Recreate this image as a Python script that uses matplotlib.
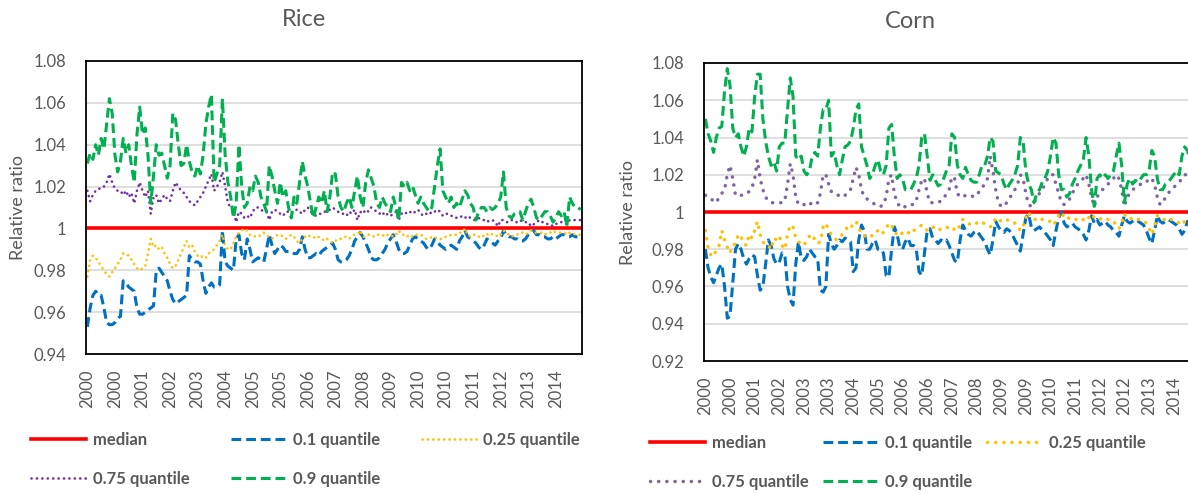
import matplotlib
matplotlib.use("Agg")
import matplotlib.pyplot as plt
from matplotlib.lines import Line2D
from matplotlib.ticker import FuncFormatter
import numpy as np

plt.rcParams['font.family'] = ['Lato', 'DejaVu Sans']

# monthly values, Jan 2000 .. Dec 2014 (180 months)
rice_q10 = [
    0.953, 0.962, 0.968, 0.970, 0.968, 0.968, 0.962, 0.955, 0.954, 0.954,
    0.955, 0.957, 0.958, 0.975, 0.974, 0.972, 0.971, 0.970, 0.962, 0.959,
    0.959, 0.960, 0.961, 0.962, 0.963, 0.980, 0.981, 0.979, 0.977, 0.975,
    0.970, 0.966, 0.964, 0.965, 0.966, 0.967, 0.968, 0.987, 0.985, 0.984,
    0.984, 0.983, 0.975, 0.969, 0.972, 0.974, 0.972, 0.972, 0.973, 0.999,
    0.984, 0.982, 0.981, 0.980, 0.995, 0.997, 0.988, 0.985, 0.995, 0.990,
    0.984, 0.985, 0.986, 0.985, 0.984, 0.990, 0.997, 0.992, 0.988, 0.990,
    0.992, 0.991, 0.989, 0.989, 0.989, 0.988, 0.988, 0.990, 0.996, 0.990,
    0.986, 0.986, 0.987, 0.988, 0.987, 0.989, 0.990, 0.991, 0.992, 0.993,
    0.990, 0.985, 0.984, 0.984, 0.985, 0.987, 0.990, 0.994, 0.996, 0.998,
    0.996, 0.993, 0.990, 0.986, 0.985, 0.985, 0.986, 0.988, 0.990, 0.993,
    0.995, 0.997, 0.994, 0.990, 0.988, 0.988, 0.989, 0.992, 0.995, 0.996,
    0.995, 0.994, 0.993, 0.991, 0.990, 0.992, 0.995, 0.994, 0.992, 0.991,
    0.990, 0.991, 0.992, 0.991, 0.990, 0.994, 0.996, 0.999, 0.996, 0.995,
    0.994, 0.993, 0.991, 0.990, 0.992, 0.995, 0.994, 0.993, 0.992, 0.994,
    0.995, 0.999, 0.997, 0.996, 0.996, 0.995, 0.995, 0.994, 0.994, 0.995,
    0.997, 0.998, 0.999, 0.997, 0.997, 0.996, 0.996, 0.995, 0.995, 0.996,
    0.995, 0.996, 0.997, 0.997, 0.996, 0.996, 0.997, 0.996, 0.996, 0.996,
]
rice_q25 = [
    0.977, 0.985, 0.987, 0.986, 0.984, 0.982, 0.980, 0.978, 0.977, 0.979,
    0.981, 0.983, 0.985, 0.988, 0.988, 0.987, 0.985, 0.983, 0.981, 0.980,
    0.981, 0.982, 0.988, 0.995, 0.991, 0.992, 0.990, 0.991, 0.988, 0.986,
    0.983, 0.981, 0.982, 0.985, 0.988, 0.991, 0.994, 0.991, 0.992, 0.989,
    0.987, 0.986, 0.987, 0.986, 0.988, 0.989, 0.990, 0.992, 0.994, 0.997,
    0.992, 0.990, 0.990, 0.993, 0.996, 0.998, 0.999, 1.000, 0.999, 0.997,
    0.997, 0.996, 0.996, 0.997, 0.998, 0.997, 0.996, 0.995, 0.996, 0.997,
    0.997, 0.996, 0.995, 0.996, 0.997, 0.996, 0.994, 0.993, 0.995, 0.996,
    0.997, 0.996, 0.996, 0.995, 0.996, 0.995, 0.994, 0.995, 0.994, 0.993,
    0.994, 0.995, 0.995, 0.996, 0.996, 0.995, 0.996, 0.997, 0.997, 0.999,
    0.996, 0.996, 0.997, 0.997, 0.996, 0.997, 0.997, 0.997, 0.996, 0.997,
    0.997, 0.996, 0.997, 0.999, 0.997, 0.997, 0.996, 0.997, 0.996, 0.997,
    0.997, 0.997, 0.996, 0.995, 0.995, 0.996, 0.996, 0.995, 0.995, 0.995,
    0.996, 0.996, 0.997, 0.997, 0.997, 0.998, 0.998, 1.000, 0.997, 0.996,
    0.997, 0.997, 0.996, 0.997, 0.996, 0.997, 0.998, 0.997, 0.997, 0.996,
    0.997, 0.999, 0.998, 0.997, 0.996, 0.997, 0.997, 0.998, 0.998, 0.997,
    0.998, 0.999, 0.998, 0.998, 0.998, 0.998, 0.997, 0.998, 0.998, 0.999,
    0.998, 0.998, 0.998, 0.998, 0.997, 0.998, 0.998, 0.997, 0.997, 0.997,
]
rice_q75 = [
    1.018, 1.013, 1.016, 1.018, 1.019, 1.019, 1.020, 1.022, 1.026, 1.022,
    1.019, 1.018, 1.018, 1.016, 1.018, 1.015, 1.017, 1.012, 1.018, 1.022,
    1.018, 1.015, 1.018, 1.007, 1.015, 1.016, 1.012, 1.014, 1.016, 1.014,
    1.013, 1.018, 1.022, 1.020, 1.018, 1.017, 1.015, 1.013, 1.012, 1.011,
    1.013, 1.015, 1.017, 1.020, 1.023, 1.026, 1.018, 1.020, 1.022, 1.027,
    1.020, 1.012, 1.010, 1.009, 1.003, 1.008, 1.007, 1.005, 1.006, 1.005,
    1.008, 1.010, 1.010, 1.009, 1.008, 1.008, 1.004, 1.008, 1.009, 1.008,
    1.007, 1.006, 1.008, 1.008, 1.007, 1.008, 1.009, 1.008, 1.007, 1.009,
    1.010, 1.008, 1.007, 1.006, 1.007, 1.007, 1.008, 1.008, 1.009, 1.010,
    1.009, 1.008, 1.007, 1.007, 1.006, 1.008, 1.007, 1.009, 1.004, 1.008,
    1.007, 1.009, 1.008, 1.010, 1.009, 1.008, 1.007, 1.008, 1.006, 1.007,
    1.006, 1.007, 1.008, 1.004, 1.007, 1.008, 1.007, 1.008, 1.007, 1.008,
    1.009, 1.007, 1.006, 1.007, 1.008, 1.007, 1.008, 1.009, 1.008, 1.006,
    1.007, 1.007, 1.006, 1.006, 1.005, 1.005, 1.006, 1.005, 1.006, 1.005,
    1.004, 1.004, 1.005, 1.004, 1.004, 1.003, 1.004, 1.004, 1.003, 1.001,
    1.004, 1.004, 1.003, 1.003, 1.004, 1.003, 1.003, 1.004, 1.003, 1.003,
    1.003, 1.001, 1.002, 1.003, 1.004, 1.003, 1.003, 1.002, 1.002, 1.001,
    1.002, 1.003, 1.003, 1.003, 1.002, 1.004, 1.004, 1.004, 1.004, 1.004,
]
rice_q90 = [
    1.031, 1.036, 1.033, 1.040, 1.035, 1.043, 1.038, 1.050, 1.062, 1.055,
    1.035, 1.027, 1.032, 1.043, 1.036, 1.040, 1.030, 1.022, 1.045, 1.058,
    1.045, 1.048, 1.035, 1.012, 1.025, 1.040, 1.035, 1.036, 1.030, 1.024,
    1.030, 1.055, 1.052, 1.040, 1.030, 1.031, 1.040, 1.032, 1.027, 1.025,
    1.030, 1.026, 1.035, 1.050, 1.058, 1.064, 1.022, 1.026, 1.030, 1.062,
    1.035, 1.022, 1.015, 1.005, 1.012, 1.040, 1.020, 1.010, 1.012, 1.020,
    1.018, 1.025, 1.022, 1.015, 1.012, 1.008, 1.030, 1.025, 1.018, 1.012,
    1.022, 1.015, 1.018, 1.010, 1.005, 1.015, 1.012, 1.022, 1.032, 1.025,
    1.020, 1.012, 1.005, 1.010, 1.015, 1.012, 1.018, 1.008, 1.015, 1.027,
    1.026, 1.015, 1.010, 1.008, 1.012, 1.015, 1.010, 1.018, 1.025, 1.015,
    1.010, 1.022, 1.028, 1.024, 1.020, 1.012, 1.010, 1.015, 1.012, 1.010,
    1.008, 1.015, 1.010, 1.004, 1.022, 1.020, 1.022, 1.018, 1.020, 1.016,
    1.012, 1.015, 1.012, 1.010, 1.008, 1.010, 1.020, 1.030, 1.038, 1.018,
    1.015, 1.012, 1.015, 1.010, 1.012, 1.010, 1.014, 1.018, 1.016, 1.012,
    1.010, 1.004, 1.008, 1.010, 1.010, 1.008, 1.010, 1.009, 1.010, 1.012,
    1.015, 1.027, 1.010, 1.006, 1.005, 1.007, 1.008, 1.008, 1.004, 1.008,
    1.012, 1.014, 1.010, 1.005, 1.004, 1.006, 1.008, 1.008, 1.006, 1.003,
    1.005, 1.008, 1.006, 1.008, 1.001, 1.015, 1.012, 1.010, 1.010, 1.009,
]

corn_q10 = [
    0.980, 0.970, 0.965, 0.962, 0.966, 0.970, 0.972, 0.960, 0.943, 0.944,
    0.962, 0.980, 0.983, 0.980, 0.975, 0.972, 0.975, 0.977, 0.976, 0.966,
    0.958, 0.960, 0.972, 0.985, 0.982, 0.975, 0.972, 0.973, 0.978, 0.977,
    0.960, 0.953, 0.950, 0.972, 0.984, 0.975, 0.974, 0.976, 0.980, 0.978,
    0.976, 0.975, 0.958, 0.957, 0.960, 0.988, 0.983, 0.980, 0.982, 0.985,
    0.984, 0.986, 0.985, 0.984, 0.968, 0.970, 0.985, 0.993, 0.990, 0.980,
    0.980, 0.983, 0.985, 0.980, 0.980, 0.978, 0.966, 0.965, 0.980, 0.992,
    0.988, 0.981, 0.980, 0.984, 0.986, 0.982, 0.982, 0.980, 0.968, 0.966,
    0.978, 0.990, 0.991, 0.986, 0.985, 0.983, 0.985, 0.984, 0.985, 0.982,
    0.978, 0.974, 0.973, 0.985, 0.993, 0.990, 0.988, 0.987, 0.989, 0.990,
    0.988, 0.986, 0.984, 0.980, 0.977, 0.985, 0.995, 0.992, 0.990, 0.989,
    0.991, 0.990, 0.988, 0.985, 0.982, 0.979, 0.988, 0.997, 0.999, 0.992,
    0.990, 0.991, 0.992, 0.990, 0.989, 0.987, 0.985, 0.982, 0.990, 0.997,
    1.000, 0.994, 0.992, 0.993, 0.994, 0.992, 0.991, 0.990, 0.988, 0.985,
    0.990, 0.998, 0.994, 0.996, 0.993, 0.994, 0.995, 0.993, 0.992, 0.990,
    0.989, 0.987, 0.993, 0.998, 0.995, 0.994, 0.995, 0.996, 0.995, 0.994,
    0.993, 0.990, 0.986, 0.983, 0.990, 0.998, 0.995, 0.994, 0.995, 0.996,
    0.995, 0.994, 0.993, 0.991, 0.988, 0.990, 0.995, 0.994, 0.993, 0.994,
]
corn_q25 = [
    0.990, 0.981, 0.977, 0.976, 0.980, 0.982, 0.990, 0.985, 0.981, 0.978,
    0.982, 0.983, 0.988, 0.987, 0.983, 0.982, 0.988, 0.986, 0.990, 0.995,
    0.988, 0.984, 0.982, 0.982, 0.980, 0.986, 0.985, 0.987, 0.982, 0.980,
    0.988, 0.993, 0.992, 0.986, 0.984, 0.983, 0.982, 0.985, 0.987, 0.988,
    0.985, 0.983, 0.984, 0.992, 0.994, 0.990, 0.988, 0.986, 0.985, 0.986,
    0.988, 0.990, 0.992, 0.991, 0.994, 0.995, 0.992, 0.988, 0.987, 0.988,
    0.988, 0.987, 0.989, 0.990, 0.988, 0.989, 0.991, 0.994, 0.993, 0.989,
    0.988, 0.987, 0.989, 0.990, 0.989, 0.988, 0.990, 0.991, 0.992, 0.993,
    0.992, 0.990, 0.991, 0.992, 0.991, 0.990, 0.991, 0.992, 0.992, 0.991,
    0.990, 0.991, 0.990, 0.993, 0.996, 0.995, 0.994, 0.993, 0.994, 0.994,
    0.995, 0.994, 0.994, 0.993, 0.992, 0.993, 0.997, 0.996, 0.995, 0.995,
    0.996, 0.995, 0.995, 0.994, 0.993, 0.990, 0.992, 0.997, 1.000, 0.997,
    0.996, 0.996, 0.997, 0.996, 0.996, 0.995, 0.995, 0.993, 0.995, 0.998,
    1.000, 0.997, 0.996, 0.997, 0.997, 0.996, 0.996, 0.995, 0.996, 0.995,
    0.997, 0.999, 0.997, 0.997, 0.996, 0.997, 0.997, 0.996, 0.996, 0.995,
    0.993, 0.991, 0.994, 0.999, 0.997, 0.996, 0.997, 0.997, 0.996, 0.996,
    0.995, 0.994, 0.991, 0.988, 0.992, 0.998, 0.997, 0.996, 0.996, 0.997,
    0.996, 0.996, 0.995, 0.994, 0.993, 0.995, 0.997, 0.996, 0.996, 0.996,
]
corn_q75 = [
    1.009, 1.008, 1.007, 1.006, 1.005, 1.008, 1.010, 1.012, 1.020, 1.025,
    1.018, 1.009, 1.009, 1.009, 1.009, 1.010, 1.011, 1.013, 1.018, 1.028,
    1.018, 1.012, 1.008, 1.006, 1.005, 1.005, 1.005, 1.005, 1.005, 1.006,
    1.015, 1.026, 1.020, 1.008, 1.004, 1.004, 1.004, 1.003, 1.004, 1.005,
    1.004, 1.005, 1.010, 1.020, 1.020, 1.015, 1.011, 1.010, 1.009, 1.009,
    1.008, 1.009, 1.010, 1.012, 1.018, 1.024, 1.020, 1.012, 1.008, 1.007,
    1.006, 1.005, 1.004, 1.004, 1.003, 1.004, 1.008, 1.018, 1.020, 1.010,
    1.005, 1.003, 1.002, 1.003, 1.004, 1.004, 1.004, 1.006, 1.012, 1.017,
    1.018, 1.010, 1.005, 1.005, 1.005, 1.005, 1.006, 1.007, 1.010, 1.012,
    1.019, 1.018, 1.010, 1.008, 1.008, 1.009, 1.009, 1.009, 1.008, 1.009,
    1.011, 1.013, 1.015, 1.018, 1.030, 1.022, 1.012, 1.005, 1.003, 1.003,
    1.005, 1.007, 1.010, 1.012, 1.015, 1.020, 1.018, 1.010, 1.004, 1.003,
    1.005, 1.008, 1.010, 1.012, 1.015, 1.018, 1.020, 1.020, 1.015, 1.010,
    1.005, 1.004, 1.005, 1.007, 1.010, 1.013, 1.015, 1.017, 1.018, 1.020,
    1.015, 1.008, 1.003, 1.008, 1.010, 1.012, 1.013, 1.015, 1.016, 1.018,
    1.020, 1.018, 1.012, 1.003, 1.008, 1.010, 1.012, 1.013, 1.014, 1.015,
    1.015, 1.016, 1.018, 1.018, 1.015, 1.008, 1.004, 1.005, 1.008, 1.010,
    1.012, 1.013, 1.015, 1.016, 1.018, 1.020, 1.020, 1.019, 1.019, 1.019,
]
corn_q90 = [
    1.050, 1.042, 1.038, 1.032, 1.040, 1.045, 1.046, 1.065, 1.077, 1.068,
    1.045, 1.040, 1.042, 1.035, 1.030, 1.035, 1.045, 1.043, 1.062, 1.074,
    1.074, 1.050, 1.038, 1.030, 1.025, 1.027, 1.022, 1.035, 1.037, 1.037,
    1.055, 1.072, 1.062, 1.030, 1.028, 1.030, 1.022, 1.020, 1.022, 1.030,
    1.032, 1.030, 1.045, 1.055, 1.055, 1.060, 1.030, 1.032, 1.025, 1.020,
    1.028, 1.035, 1.036, 1.038, 1.045, 1.055, 1.058, 1.035, 1.030, 1.025,
    1.018, 1.020, 1.025, 1.028, 1.022, 1.020, 1.025, 1.045, 1.047, 1.030,
    1.018, 1.020, 1.018, 1.012, 1.012, 1.012, 1.015, 1.018, 1.025, 1.040,
    1.042, 1.030, 1.017, 1.020, 1.017, 1.014, 1.015, 1.018, 1.022, 1.025,
    1.042, 1.040, 1.025, 1.020, 1.018, 1.024, 1.020, 1.017, 1.016, 1.016,
    1.020, 1.025, 1.025, 1.030, 1.040, 1.038, 1.022, 1.021, 1.020, 1.015,
    1.012, 1.015, 1.017, 1.020, 1.025, 1.040, 1.038, 1.022, 1.015, 1.012,
    1.005, 1.010, 1.012, 1.016, 1.018, 1.022, 1.030, 1.040, 1.037, 1.020,
    1.012, 1.012, 1.008, 1.010, 1.015, 1.018, 1.022, 1.025, 1.028, 1.040,
    1.030, 1.012, 1.003, 1.018, 1.020, 1.018, 1.020, 1.018, 1.020, 1.022,
    1.030, 1.037, 1.025, 1.005, 1.015, 1.018, 1.015, 1.017, 1.016, 1.018,
    1.020, 1.020, 1.022, 1.033, 1.030, 1.018, 1.012, 1.012, 1.015, 1.016,
    1.018, 1.020, 1.022, 1.020, 1.030, 1.035, 1.033, 1.028, 1.025, 1.022,
]

median = [1.0] * 180

rice_ticks = list(range(0, 180, 10))
rice_tick_labels = ['2000', '2000', '2001', '2002', '2003', '2004', '2005', '2005', '2006',
                    '2007', '2008', '2009', '2010', '2010', '2011', '2012', '2013', '2014']
corn_ticks = list(range(0, 180, 9))
corn_tick_labels = ['2000', '2000', '2001', '2002', '2003', '2003', '2004', '2005', '2006', '2006',
                    '2007', '2008', '2009', '2009', '2010', '2011', '2012', '2012', '2013', '2014']

labels = ['median', '0.1 quantile', '0.25 quantile', '0.75 quantile', '0.9 quantile']

GRAY = '#595959'


def styles(purple, dot_lw, dot_gap):
    return [
        dict(color='#FF0000', lw=2.6, linestyle='-'),
        dict(color='#0070C0', lw=2.2, linestyle=(0, (3.2, 1.6))),
        dict(color='#FFC000', lw=dot_lw, linestyle=(0, (0.05, dot_gap)), dash_capstyle='round'),
        dict(color=purple, lw=dot_lw, linestyle=(0, (0.05, dot_gap)), dash_capstyle='round'),
        dict(color='#00B050', lw=2.2, linestyle=(0, (3.2, 1.6))),
    ]


def draw_panel(ax, series, sty, ylim, ticks, ticklabels):
    x = np.arange(len(series[0]))
    for y, s in zip(series, sty):
        ax.plot(x, y, **s)
    ax.set_xlim(-0.5, len(x) - 0.5)
    ax.set_ylim(*ylim)
    ax.set_yticks(np.arange(ylim[0], ylim[1] + 0.001, 0.02))
    ax.yaxis.set_major_formatter(FuncFormatter(lambda v, p: '{:g}'.format(round(v, 2))))
    ax.set_xticks(ticks)
    ax.set_xticklabels(ticklabels, rotation=90)
    ax.tick_params(axis='both', length=0, labelsize=12, labelcolor=GRAY)
    ax.tick_params(axis='y', pad=14)
    ax.tick_params(axis='x', pad=11)
    ax.grid(axis='y', color='#D9D9D9', lw=1.2)
    ax.set_axisbelow(True)
    for sp in ax.spines.values():
        sp.set_color('black')
        sp.set_linewidth(1.3)
        sp.set_zorder(5)


def add_legend(fig, sty, anchor, colspace):
    handles = [Line2D([], [], **s) for s in sty]
    order = [0, 3, 1, 4, 2]
    leg = fig.legend([handles[i] for i in order], [labels[i] for i in order],
                     ncol=3, loc='upper left', bbox_to_anchor=anchor, frameon=False,
                     handlelength=3.3, handletextpad=0.4, columnspacing=colspace,
                     labelspacing=1.35, borderpad=0, borderaxespad=0,
                     prop={'size': 12, 'weight': 'bold'})
    for t in leg.get_texts():
        t.set_color(GRAY)


fig = plt.figure(figsize=(11.88, 4.94), dpi=100)

ax1 = fig.add_axes([86 / 1188, 1 - 354 / 494, 496 / 1188, 293 / 494])
rice_sty = styles('#7030A0', 1.9, 2.0)
draw_panel(ax1, [median, rice_q10, rice_q25, rice_q75, rice_q90], rice_sty,
           (0.94, 1.08), rice_ticks, rice_tick_labels)

ax2 = fig.add_axes([704 / 1188, 1 - 361 / 494, 493 / 1188, 298 / 494])
corn_sty = styles('#8064A2', 2.5, 2.3)
draw_panel(ax2, [median, corn_q10, corn_q25, corn_q75, corn_q90], corn_sty,
           (0.92, 1.08), corn_ticks, corn_tick_labels)

fig.text(304 / 1188, 1 - 19 / 494, 'Rice', ha='center', va='center', fontsize=17, color=GRAY)
fig.text(910 / 1188, 1 - 21 / 494, 'Corn', ha='center', va='center', fontsize=17, color=GRAY)
fig.text(18 / 1188, 1 - 207 / 494, 'Relative ratio', rotation=90, ha='center', va='center',
         fontsize=13, color=GRAY)
fig.text(628 / 1188, 1 - 212 / 494, 'Relative ratio', rotation=90, ha='center', va='center',
         fontsize=13, color=GRAY)

add_legend(fig, rice_sty, (31 / 1188, 1 - 432 / 494), 2.5)
add_legend(fig, corn_sty, (650 / 1188, 1 - 435 / 494), 0.9)

fig.savefig('out.png', dpi=100)
